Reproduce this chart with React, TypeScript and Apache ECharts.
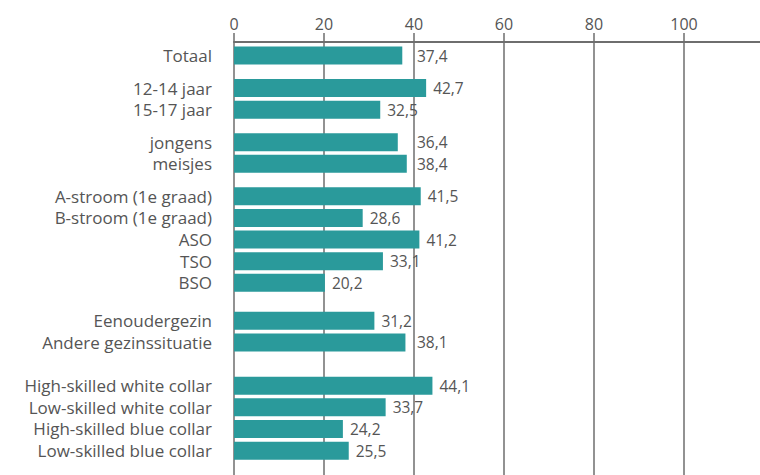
import React, { useEffect, useRef } from "react";
import * as echarts from "echarts";

const categories = [
  "Totaal",
  "12-14 jaar",
  "15-17 jaar",
  "jongens",
  "meisjes",
  "A-stroom (1e graad)",
  "B-stroom (1e graad)",
  "ASO",
  "TSO",
  "BSO",
  "Eenoudergezin",
  "Andere gezinssituatie",
  "High-skilled white collar",
  "Low-skilled white collar",
  "High-skilled blue collar",
  "Low-skilled blue collar",
];
const values = [37.4, 42.7, 32.5, 36.4, 38.4, 41.5, 28.6, 41.2, 33.1, 20.2, 31.2, 38.1, 44.1, 33.7, 24.2, 25.5];
const groupSizes = [1, 2, 2, 5, 2, 4];
const xTicks = [0, 20, 40, 60, 80, 100];

// layout: slots (quarter rows) on a category axis
const LEAD = 2;
const ROW = 4;
const GROUP_EXTRA = [2, 2, 2, 3, 4];
const TOTAL_SLOTS = 80;
const GRID_LEFT = 234;
const CHART_W = 760;
const X_MAX = 116.9;
const LABEL_FONT = 15.5;
const FONT = "'Open Sans', 'Noto Sans', sans-serif";

function textWidth(s: string, size: number) {
  const c = document.createElement("canvas").getContext("2d");
  if (!c) return s.length * size * 0.55;
  c.font = `${size}px 'Open Sans'`;
  return c.measureText(s).width;
}

function fmt(v: number) {
  return String(v).replace(".", ",");
}

// keep value labels clear of the vertical grid lines (as in the reference)
function labelDistance(v: number) {
  const ppu = (CHART_W - GRID_LEFT) / X_MAX;
  const base = 7;
  const start = v * ppu + base;
  const w = textWidth(fmt(v), LABEL_FONT);
  for (const t of xTicks) {
    const gx = t * ppu;
    if (gx > start - 2 && gx < start + w + 2) {
      const shifted = gx + 3;
      if (shifted - start <= 14) return base + (shifted - start);
    }
  }
  return base;
}

function buildSlots() {
  const labels: string[] = new Array(TOTAL_SLOTS).fill("");
  const data: any[] = new Array(TOTAL_SLOTS).fill("-");
  let pos = LEAD;
  let idx = 0;
  groupSizes.forEach((size, g) => {
    for (let i = 0; i < size; i++) {
      labels[pos] = categories[idx];
      data[pos] = { value: values[idx], label: { distance: labelDistance(values[idx]) } };
      idx++;
      if (i < size - 1) pos += ROW;
    }
    if (g < GROUP_EXTRA.length) pos += ROW + GROUP_EXTRA[g];
  });
  return { labels, data };
}

export default function App() {
  const ref = useRef<HTMLDivElement>(null);
  useEffect(() => {
    if (!ref.current) return;
    const chart = echarts.init(ref.current, null, { renderer: "svg" });
    const { labels, data } = buildSlots();
    const textColor = "#555555";
    const lineColor = "#6e6e6e";
    chart.setOption({
      animation: false,
      backgroundColor: "#ffffff",
      grid: { left: GRID_LEFT, right: 0, top: 42, bottom: 0, containLabel: false },
      xAxis: {
        type: "value",
        position: "top",
        min: 0,
        max: X_MAX,
        interval: 20,
        axisLine: { show: true, lineStyle: { color: lineColor, width: 2 } },
        axisTick: { show: true, length: 9, inside: false, lineStyle: { color: lineColor, width: 1.5 } },
        axisLabel: {
          show: true,
          margin: 10,
          fontSize: 16,
          fontFamily: FONT,
          color: textColor,
          showMaxLabel: false,
          formatter: (v: number) => (xTicks.includes(v) ? String(v) : ""),
        },
        splitLine: { show: true, showMaxLine: false, lineStyle: { color: lineColor, width: 1.5 } },
      },
      yAxis: {
        type: "category",
        inverse: true,
        data: labels,
        axisLine: { show: false },
        axisTick: { show: false },
        axisLabel: {
          interval: 0,
          margin: 22,
          fontSize: 17,
          fontFamily: FONT,
          color: textColor,
        },
        splitLine: { show: false },
      },
      series: [
        {
          type: "bar",
          data,
          barWidth: 18,
          itemStyle: { color: "#2a9a9b" },
          label: {
            show: true,
            position: "right",
            distance: 7,
            fontSize: LABEL_FONT,
            fontFamily: FONT,
            color: textColor,
            formatter: (p: any) => fmt(p.value),
          },
        },
      ],
    });
    return () => chart.dispose();
  }, []);
  return (
    <div
      ref={ref}
      style={{ position: "fixed", left: 0, top: 0, width: CHART_W, height: 475 }}
    />
  );
}
